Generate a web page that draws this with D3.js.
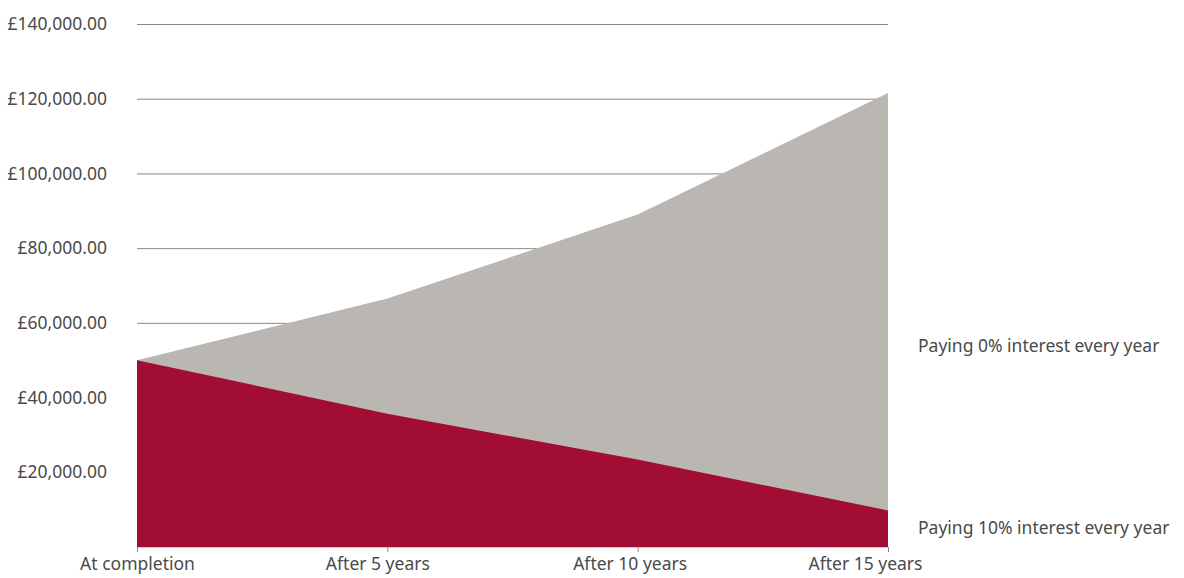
<!DOCTYPE html>
<html>
<head>
<meta charset="utf-8">
<script src="https://cdn.jsdelivr.net/npm/d3@7"></script>
<style>
  body { margin: 0; background: #fff; }
  svg text { font-family: "Noto Sans", "Open Sans", sans-serif; fill: #4a4a4a; }
</style>
</head>
<body>
<div id="chart"></div>
<script>
// chart data
const periods = ['At completion', 'After 5 years', 'After 10 years', 'After 15 years'];
const noInterest = [50000, 66500, 89000, 121500];
const tenInterest = [50000, 35700, 23400, 9800];
const seriesLabels = ['Paying 0% interest every year', 'Paying 10% interest every year'];
const yTicks = [20000, 40000, 60000, 80000, 100000, 120000, 140000];

const width = 1184, height = 578;
const margin = { top: 24, right: 296, bottom: 31, left: 137 };
const innerW = width - margin.left - margin.right;
const innerH = height - margin.top - margin.bottom;
const fontSize = 17.5;

const svg = d3.select('#chart').append('svg')
    .attr('width', width)
    .attr('height', height);

const chart = svg.append('g')
    .attr('transform', `translate(${margin.left},${margin.top})`);

const xScale = d3.scalePoint()
    .domain(periods)
    .range([0, innerW]);

const yScale = d3.scaleLinear()
    .domain([0, 140000])
    .range([innerH, 0]);

const fmt = d => '£' + d3.format(',.2f')(d);

// gridlines + labels
const yAxis = d3.axisLeft(yScale)
    .tickValues(yTicks)
    .tickSize(-innerW)
    .tickFormat(fmt);

chart.append('g')
    .attr('class', 'y-axis')
    .call(yAxis)
    .call(g => g.select('.domain').remove())
    .call(g => g.selectAll('.tick line').attr('stroke', '#8a8a8a').attr('stroke-width', 1))
    .call(g => g.selectAll('.tick text')
        .attr('x', -30)
        .attr('font-size', fontSize)
        .attr('font-family', null));

// areas
const area = vals => d3.area()
    .x((d, i) => xScale(periods[i]))
    .y0(innerH)
    .y1(d => yScale(d))(vals);

chart.append('path')
    .attr('d', area(noInterest))
    .attr('fill', '#bab7b2');

chart.append('path')
    .attr('d', area(tenInterest))
    .attr('fill', '#a20e33');

// x axis (labels in the original sit a little left of their ticks)
const labelShift = [0, -10, -8, -23];
const xAxis = d3.axisBottom(xScale)
    .tickSize(5)
    .tickSizeOuter(0);

chart.append('g')
    .attr('class', 'x-axis')
    .attr('transform', `translate(0,${innerH})`)
    .call(xAxis)
    .call(g => g.select('.domain').attr('stroke', '#d9c3c8'))
    .call(g => g.selectAll('.tick line').attr('stroke', '#888'))
    .call(g => g.selectAll('.tick text')
        .attr('y', 11)
        .attr('dx', (d, i) => labelShift[i])
        .attr('font-size', fontSize)
        .attr('font-family', null));

// series labels at the right
const labelY = [yScale(53800), yScale(5000)];
svg.selectAll('.series-label')
    .data(seriesLabels)
    .join('text')
    .attr('class', 'series-label')
    .attr('x', margin.left + innerW + 30)
    .attr('y', (d, i) => margin.top + labelY[i])
    .attr('dy', '0.35em')
    .attr('font-size', fontSize)
    .text(d => d);
</script>
</body>
</html>
